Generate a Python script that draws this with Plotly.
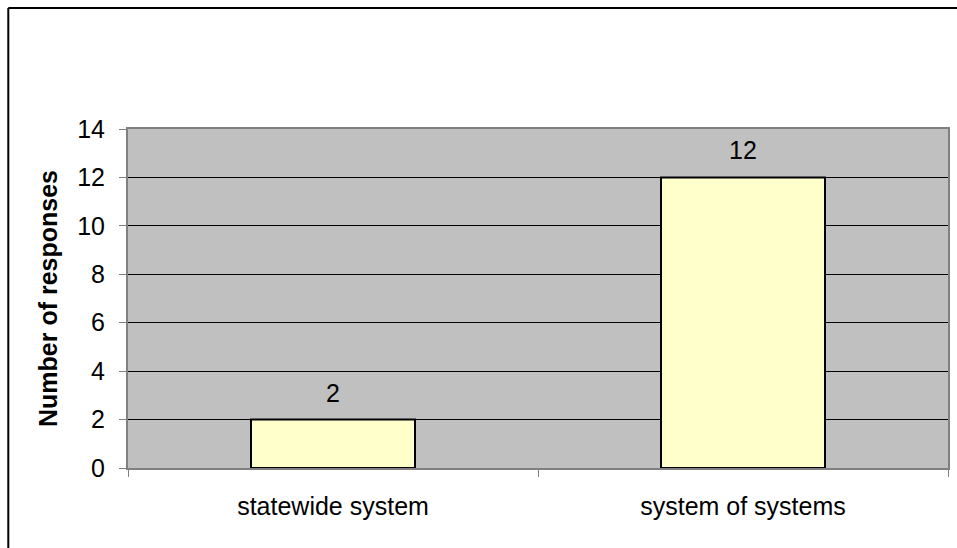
import plotly.graph_objects as go

categories = ["statewide system", "system of systems"]
values = [2, 12]
y_ticks = [0, 2, 4, 6, 8, 10, 12, 14]

W, H = 957, 548
L, R, T, B = 128, 7, 129, 80
pw, ph = W - L - R, H - T - B

def px_x(x):
    return (x - L) / pw

def px_y(y):
    return (H - B - y) / ph

FS = 25
fig = go.Figure()
fig.add_trace(go.Bar(
    x=categories, y=values, width=0.4,
    marker=dict(color="#FFFFCC", line=dict(color="black", width=2)),
    hoverinfo="skip",
))
for c, v in zip(categories, values):
    fig.add_annotation(x=c, y=v, text=str(v), showarrow=False, yshift=27,
                       font=dict(family="Liberation Sans, Arial", size=FS, color="black"))

fig.update_layout(
    width=W, height=H,
    margin=dict(l=L, r=R, t=T, b=B, pad=0),
    paper_bgcolor="white", plot_bgcolor="#C0C0C0",
    showlegend=False,
    font=dict(family="Liberation Sans, Arial", size=FS, color="black"),
    bargap=0.6,
    xaxis=dict(
        showgrid=False, ticks="outside", tickson="boundaries", ticklen=7,
        tickcolor="#808080", tickwidth=1, showline=True, linecolor="#808080", linewidth=2,
        mirror=True, tickfont=dict(size=FS), ticklabelstandoff=15,
    ),
    yaxis=dict(
        range=[0, 14], tickvals=y_ticks, ticks="outside", ticklen=7,
        tickcolor="#808080", showgrid=True, gridcolor="black", gridwidth=1,
        showline=True, linecolor="#808080", linewidth=2, mirror=True,
        zeroline=False, tickfont=dict(size=FS), ticklabelstandoff=9,
        title=dict(text="<b>Number of responses</b>", font=dict(size=FS), standoff=12),
    ),
    shapes=[
        dict(type="line", xref="paper", yref="paper", x0=px_x(8), x1=px_x(W + 5),
             y0=px_y(8), y1=px_y(8), line=dict(color="black", width=2)),
        dict(type="line", xref="paper", yref="paper", x0=px_x(8), x1=px_x(8),
             y0=px_y(8), y1=px_y(H + 5), line=dict(color="black", width=2)),
    ],
)

fig.write_html("out.html")
